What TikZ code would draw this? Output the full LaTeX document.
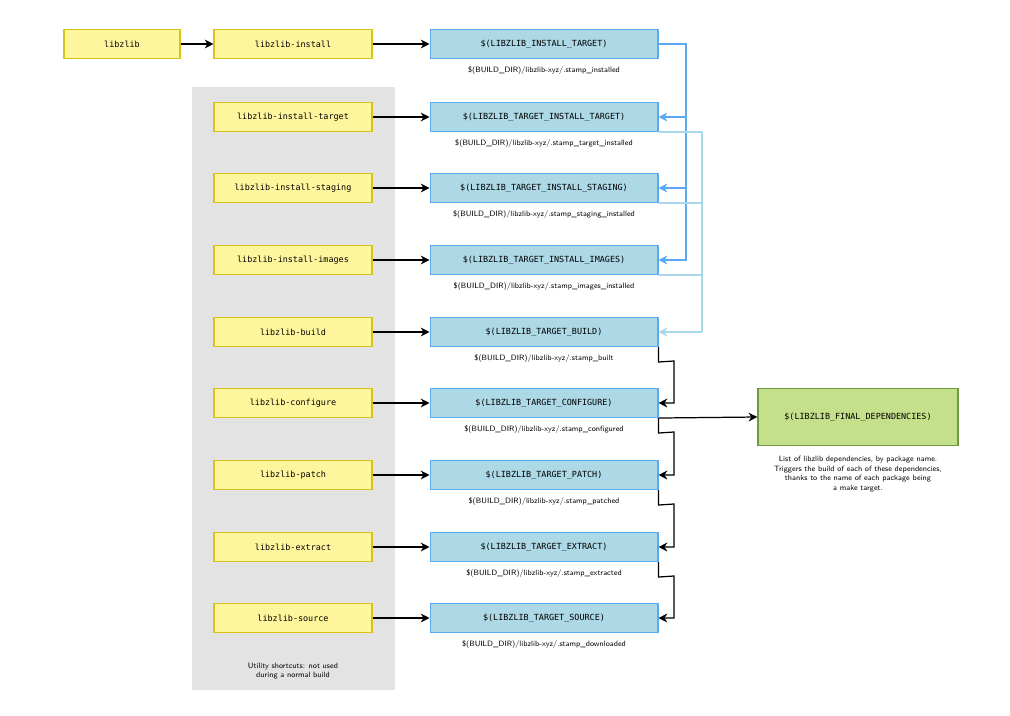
\documentclass[tikz,border=0pt]{standalone}
\usepackage{fontspec}
\newfontfamily\monof{DejaVu Sans Mono}
\usetikzlibrary{arrows.meta}
\definecolor{ybg}{HTML}{FFF59D}\definecolor{ybd}{HTML}{D9C21A}
\definecolor{bbg}{HTML}{ADD8E6}\definecolor{bbd}{HTML}{5AA9F5}
\definecolor{gbg}{HTML}{C5E08A}\definecolor{gbd}{HTML}{6E9A44}
\definecolor{lb}{HTML}{A8D8EA}
\tikzset{
 ybox/.style={draw=ybd,fill=ybg,line width=0.6pt,minimum width=3.16cm,minimum height=0.58cm,font=\monof\fontsize{4.8}{6}\selectfont,inner sep=0},
 bbox/.style={draw=bbd,fill=bbg,line width=0.6pt,minimum width=4.56cm,minimum height=0.58cm,font=\monof\fontsize{4.8}{6}\selectfont,inner sep=0},
 lbl/.style={font=\sffamily\fontsize{4.4}{5.4}\selectfont,inner sep=0,align=center},
 arr/.style={-{Stealth[length=5pt,width=5pt]},line width=0.7pt},
 barr/.style={arr,draw=bbd},
 larr/.style={arr,draw=lb}
}
\begin{document}
\begin{tikzpicture}[x=0.02cm,y=-0.02cm]
\useasboundingbox (0,0) rectangle (1010,716);
\fill[gray!22] (192,87) rectangle (395,690);
\node[lbl] (gl) at (293,671) {Utility shortcuts: not used\\during a normal build};
\node[ybox,minimum width=2.32cm] (z) at (122,44) {libzlib};
\foreach \n/\y/\t/\b/\s in {
 i/44/libzlib-install/LIBZLIB\_INSTALL\_TARGET/installed,
 it/117/libzlib-install-target/LIBZLIB\_TARGET\_INSTALL\_TARGET/target\_installed,
 is/188/libzlib-install-staging/LIBZLIB\_TARGET\_INSTALL\_STAGING/staging\_installed,
 ii/260/libzlib-install-images/LIBZLIB\_TARGET\_INSTALL\_IMAGES/images\_installed,
 b/332/libzlib-build/LIBZLIB\_TARGET\_BUILD/built,
 c/403/libzlib-configure/LIBZLIB\_TARGET\_CONFIGURE/configured,
 p/475/libzlib-patch/LIBZLIB\_TARGET\_PATCH/patched,
 e/547/libzlib-extract/LIBZLIB\_TARGET\_EXTRACT/extracted,
 s/618/libzlib-source/LIBZLIB\_TARGET\_SOURCE/downloaded}{
 \node[ybox] (y\n) at (293,\y) {\t};
 \node[bbox] (B\n) at (544,\y) {\$(\b)};
 \node[lbl] (L\n) at (544,\y+27) {\$(BUILD\_DIR)/libzlib-xyz/.stamp\_\s};
 \draw[arr] (y\n) -- (B\n);
}
\draw[arr] (z) -- (yi);
\node[draw=gbd,fill=gbg,line width=0.8pt,minimum width=4cm,minimum height=1.14cm,font=\monof\fontsize{4.8}{6}\selectfont] (G) at (858,417) {\$(LIBZLIB\_FINAL\_DEPENDENCIES)};
\node[lbl] (GL) at (858,474) {List of libzlib dependencies, by package name.\\Triggers the build of each of these dependencies,\\thanks to the name of each package being\\a make target.};
% blue
\foreach \t in {it,is,ii}{\draw[barr] (Bi.east) -| (686,0 |- B\t.east) -- (B\t.east);}
% light blue
\foreach \t in {it,is,ii}{\draw[lb,line width=0.7pt] (B\t.south east) -- (702,0 |- B\t.south east) -- (702,332);}
\draw[larr] (702,332) -- (Bb.east);
% black chain
\draw[arr] (Bb.south east) -- ++(0,15) -- (674,361) -- (674,403) -- (Bc.east);
\draw[arr] (Bc.south east) -- (G.west);
\draw[arr] (Bc.south east) -- ++(0,15) -- (674,432) -- (674,475) -- (Bp.east);
\draw[arr] (Bp.south east) -- ++(0,15) -- (674,504) -- (674,547) -- (Be.east);
\draw[arr] (Be.south east) -- ++(0,15) -- (674,576) -- (674,618) -- (Bs.east);
\end{tikzpicture}
\end{document}
